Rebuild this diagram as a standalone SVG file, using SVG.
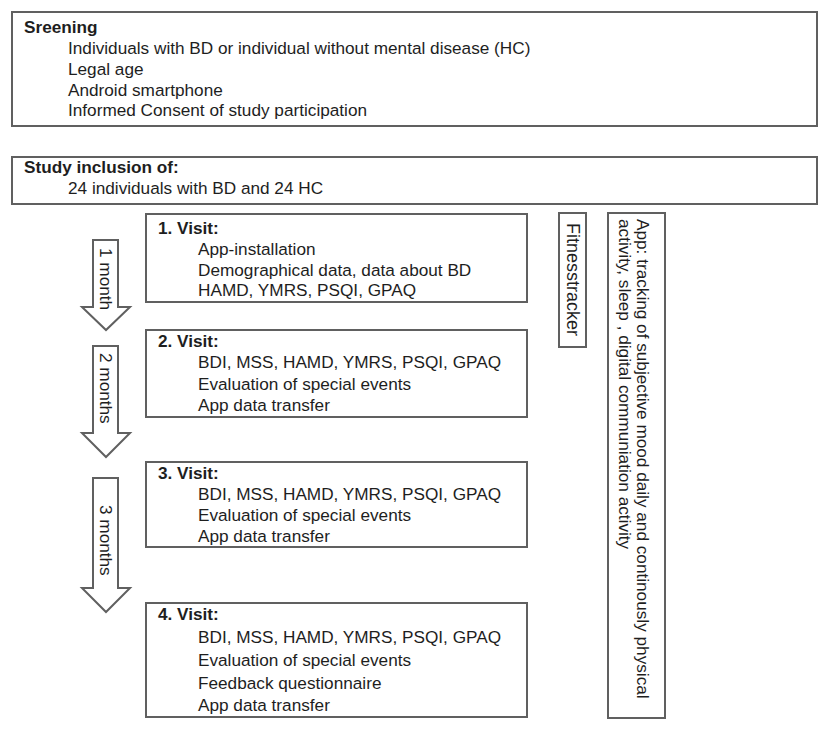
<svg xmlns="http://www.w3.org/2000/svg" width="829" height="737" viewBox="0 0 829 737">
<style>
.box{fill:#fff;stroke:#606060;stroke-width:2}
.arr{fill:#fff;stroke:#606060;stroke-width:2;stroke-linejoin:miter}
text{font-family:"Liberation Sans",Arial,sans-serif;font-size:17.2px;fill:#1e1e1e}
.b{font-weight:bold}
</style>
<rect width="829" height="737" fill="#fff"/>
<g id="screening">
<rect class="box" x="12" y="12" width="805" height="114"/>
<text class="b" x="24" y="33">Sreening</text>
<text x="68" y="54">Individuals with BD or individual without mental disease (HC)</text>
<text x="68" y="75">Legal age</text>
<text x="68" y="96">Android smartphone</text>
<text x="68" y="116">Informed Consent of study participation</text>
</g>
<g id="inclusion">
<rect class="box" x="12" y="157" width="805" height="47"/>
<text class="b" x="24" y="173">Study inclusion of:</text>
<text x="68" y="194">24 individuals with BD and 24 HC</text>
</g>
<g id="visit1">
<rect class="box" x="146" y="214" width="381" height="88"/>
<text class="b" x="158" y="234">1. Visit:</text>
<text x="198" y="255">App-installation</text>
<text x="198" y="276">Demographical data, data about BD</text>
<text x="198" y="296">HAMD, YMRS, PSQI, GPAQ</text>
</g>
<g id="visit2">
<rect class="box" x="146" y="330" width="381" height="87"/>
<text class="b" x="158" y="347">2. Visit:</text>
<text x="198" y="368">BDI, MSS, HAMD, YMRS, PSQI, GPAQ</text>
<text x="198" y="390">Evaluation of special events</text>
<text x="198" y="411">App data transfer</text>
</g>
<g id="visit3">
<rect class="box" x="146" y="462" width="381" height="85"/>
<text class="b" x="158" y="479">3. Visit:</text>
<text x="198" y="500">BDI, MSS, HAMD, YMRS, PSQI, GPAQ</text>
<text x="198" y="521">Evaluation of special events</text>
<text x="198" y="542">App data transfer</text>
</g>
<g id="visit4">
<rect class="box" x="146" y="603" width="381" height="114"/>
<text class="b" x="158" y="620">4. Visit:</text>
<text x="198" y="643">BDI, MSS, HAMD, YMRS, PSQI, GPAQ</text>
<text x="198" y="666">Evaluation of special events</text>
<text x="198" y="689">Feedback questionnaire</text>
<text x="198" y="711">App data transfer</text>
</g>
<g id="fitnesstracker">
<rect class="box" x="559" y="213" width="27" height="134"/>
<text transform="translate(567,223) rotate(90)" style="font-size:18px">Fitnesstracker</text>
</g>
<g id="app">
<rect class="box" x="608" y="213" width="57" height="505"/>
<text transform="translate(637,219) rotate(90)">App: tracking of subjective mood daily and continously physical</text>
<text transform="translate(619,219) rotate(90)">activity, sleep , digital communiation activity</text>
</g>
<g id="connectors">
<g id="arrow1">
<path class="arr" d="M93,240 H118 V307 H130 L106,330 L82,307 H93 Z"/>
<text transform="translate(100,248) rotate(90)">1 month</text>
</g>
<g id="arrow2">
<path class="arr" d="M93,346 H118 V433 H130 L106,457 L82,433 H93 Z"/>
<text transform="translate(100,353) rotate(90)">2 months</text>
</g>
<g id="arrow3">
<path class="arr" d="M93,478 H118 V588 H130 L106,612 L82,588 H93 Z"/>
<text transform="translate(100,505) rotate(90)">3 months</text>
</g>
</g>
</svg>
